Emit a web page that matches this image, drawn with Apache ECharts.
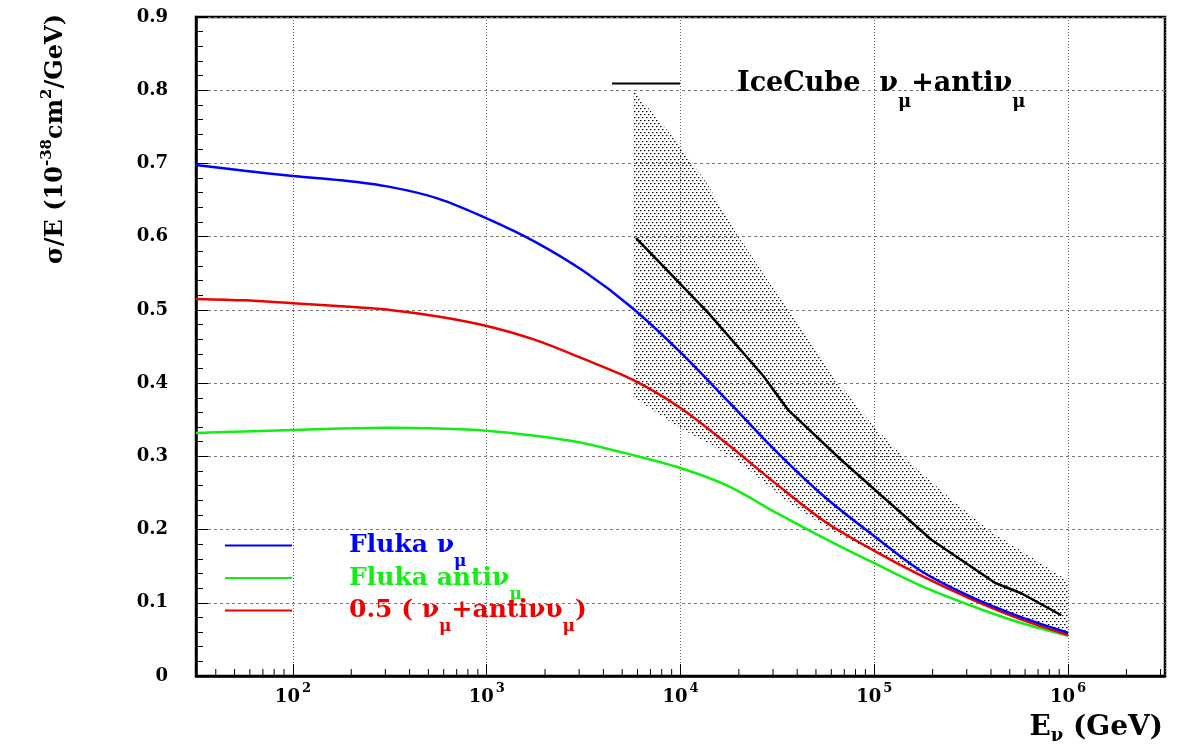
<!DOCTYPE html>
<html><head><meta charset="utf-8">
<script src="https://cdn.jsdelivr.net/npm/echarts@6/dist/echarts.min.js"></script>
<style>html,body{margin:0;padding:0;background:#fff}#c{width:1188px;height:753px}</style>
</head><body><div id="c"></div>
<script>
// ---- data ----
const flukaEnergy   = [31.6, 56.2, 100, 178, 316, 562, 1000, 1778, 3162, 5623, 1e4, 17783, 31623, 56234, 1e5, 177828, 316228, 562341, 1e6];
const flukaNuMu     = [0.698, 0.690, 0.683, 0.677, 0.668, 0.652, 0.625, 0.593, 0.553, 0.503, 0.442, 0.374, 0.305, 0.243, 0.191, 0.142, 0.108, 0.081, 0.059];
const flukaAntiNuMu = [0.332, 0.334, 0.336, 0.338, 0.339, 0.338, 0.335, 0.328, 0.318, 0.302, 0.284, 0.259, 0.222, 0.187, 0.154, 0.122, 0.096, 0.073, 0.055];
const flukaAverage  = [0.515, 0.513, 0.509, 0.505, 0.500, 0.491, 0.478, 0.459, 0.433, 0.405, 0.366, 0.315, 0.261, 0.210, 0.171, 0.136, 0.105, 0.078, 0.056];

const iceCubeEnergy = [5900, 13900, 26700, 36000, 67600, 101000, 197000, 421000, 573000, 923000];
const iceCubeValue  = [0.598, 0.496, 0.410, 0.363, 0.295, 0.254, 0.186, 0.127, 0.113, 0.083];

const bandEnergy = [5700, 9730, 13900, 19900, 27400, 36000, 65200, 96400, 140000, 240000, 386000, 622000, 1000000];
const bandHigh   = [0.800, 0.728, 0.670, 0.600, 0.545, 0.500, 0.400, 0.345, 0.300, 0.245, 0.200, 0.165, 0.130];
const bandLow    = [0.381, 0.340, 0.318, 0.293, 0.263, 0.237, 0.193, 0.172, 0.152, 0.125, 0.100, 0.076, 0.053];

const xMin = 31.6228, xMax = 3162278;        // 10^1.5 .. 10^6.5
const yMin = 0, yMax = 0.9, yStep = 0.1;
const xMinorTicks = [40,50,60,70,80,90, 200,300,400,500,600,700,800,900,
  2000,3000,4000,5000,6000,7000,8000,9000, 20000,30000,40000,50000,60000,70000,80000,90000,
  200000,300000,400000,500000,600000,700000,800000,900000, 2000000,3000000];

const N1 = 'Fluka νμ', N2 = 'Fluka antiνμ', N3 = '0.5 ( νμ+antiνυμ)', N4 = 'IceCube  νμ+antiνμ';

// ---- styling ----
const F = 'DejaVu Serif';
const BLUE = '#0000ff', GREEN = '#11ee11', RED = '#ee0000';

function dotPattern() {
  const c = document.createElement('canvas'); c.width = 4; c.height = 6;
  const g = c.getContext('2d');
  g.fillStyle = 'rgba(0,0,0,1)';
  g.fillRect(0, 0, 1, 1); g.fillRect(2, 3, 1, 1);
  g.fillStyle = 'rgba(0,0,0,0.45)';
  g.fillRect(1, 0, 1, 1); g.fillRect(3, 3, 1, 1);
  g.fillStyle = 'rgba(0,0,0,0.2)';
  g.fillRect(0, 1, 1, 1); g.fillRect(2, 4, 1, 1);
  return c;
}
const pattern = dotPattern();

function tok(color, size, lh, extra) {
  return Object.assign({color: color, fontFamily: F, fontWeight: 'bold', fontSize: size, lineHeight: lh}, extra || {});
}
const legendRich = {
  bp: tok(BLUE, 25, 50, {padding: [0, 0, 0, 52]}), bs: tok(BLUE, 17, 20, {verticalAlign: 'bottom'}),
  gp: tok(GREEN, 25, 50, {padding: [0, 0, 0, 52]}), gs: tok(GREEN, 17, 20, {verticalAlign: 'bottom'}),
  rp: tok(RED, 25, 50, {padding: [0, 0, 0, 52]}), r: tok(RED, 25, 50), rs: tok(RED, 17, 20, {verticalAlign: 'bottom'}),
  kp: tok('#000', 27, 56, {padding: [0, 0, 0, 52]}), k: tok('#000', 27, 56), ks: tok('#000', 18, 20, {verticalAlign: 'bottom'})
};
const legendText = {};
legendText[N1] = '{bp|Fluka ν}{bs|μ}';
legendText[N2] = '{gp|Fluka antiν}{gs|μ}';
legendText[N3] = '{rp|0.5 ( ν}{rs|μ}{r|+antiνυ}{rs|μ}{r|)}';
legendText[N4] = '{kp|IceCube  ν}{ks|μ}{k|+antiν}{ks|μ}';

function pairs(xs, ys) { return xs.map((x, i) => [x, ys[i]]); }
function curve(name, xs, ys, color, smooth, z) {
  return {
    type: 'line', name: name, data: pairs(xs, ys), symbol: 'none',
    smooth: smooth, z: z, silent: true,
    lineStyle: {color: color, width: 2.5}, itemStyle: {color: color}
  };
}

const chart = echarts.init(document.getElementById('c'), null, {renderer: 'canvas'});
chart.setOption({
  animation: false,
  backgroundColor: '#fff',
  grid: {left: 196, right: 23, top: 17, bottom: 77, show: true, borderColor: '#000', borderWidth: 2.5,
         backgroundColor: 'transparent', containLabel: false, outerBoundsMode: 'none'},
  xAxis: {
    type: 'log', logBase: 10, min: xMin, max: xMax,
    axisLine: {show: true, onZero: false, lineStyle: {color: '#000', width: 2.5}},
    axisTick: {show: true, inside: true, length: 12, lineStyle: {color: '#000', width: 1}},
    minorTick: {show: false},
    splitLine: {show: true, lineStyle: {color: '#666', width: 1, type: [1, 2]}},
    axisLabel: {
      show: true, margin: 6, showMinLabel: false, showMaxLabel: false,
      formatter: function (v) {
        const l = Math.log10(v), e = Math.round(l);
        if (Math.abs(l - e) > 1e-6) return '';
        return '{b|10}{s|' + e + '}';
      },
      rich: {
        b: {fontFamily: F, fontWeight: 'bold', fontSize: 18, color: '#000'},
        s: {fontFamily: F, fontWeight: 'bold', fontSize: 13, color: '#000', padding: [0, 0, 18, 2]}
      }
    }
  },
  yAxis: {
    type: 'value', min: yMin, max: yMax, interval: yStep,
    axisLine: {show: true, onZero: false, lineStyle: {color: '#000', width: 2.5}},
    axisTick: {show: true, inside: true, length: 12, lineStyle: {color: '#000', width: 1}},
    minorTick: {show: true, splitNumber: 5, length: 7, lineStyle: {color: '#000', width: 1}},
    splitLine: {show: true, lineStyle: {color: '#777', width: 1, type: [3, 3]}},
    axisLabel: {
      margin: 28, color: '#000', fontFamily: F, fontWeight: 'bold', fontSize: 18,
      formatter: function (v) { return v === 0 ? '0' : v.toFixed(1); }
    }
  },
  legend: [
    {data: [N1, N2, N3], orient: 'vertical', left: 225, top: 533, padding: 0,
     itemWidth: 67, itemHeight: 2, itemGap: -5, icon: 'rect', selectedMode: false,
     formatter: function (n) { return legendText[n]; }, textStyle: {rich: legendRich}},
    {data: [N4], orient: 'vertical', left: 612, top: 70, padding: 0,
     itemWidth: 68, itemHeight: 2, icon: 'rect', selectedMode: false,
     formatter: function (n) { return legendText[n]; }, textStyle: {rich: legendRich}}
  ],
  graphic: [
    {type: 'text', x: 56, y: 14, rotation: Math.PI / 2, silent: true,
     style: {text: '{m|σ/E (10}{s|-38}{m|cm}{s|2}{m|/GeV)}', align: 'right', verticalAlign: 'middle',
       rich: {m: {fontFamily: F, fontWeight: 'bold', fontSize: 24, fill: '#000'},
              s: {fontFamily: F, fontWeight: 'bold', fontSize: 15, fill: '#000', padding: [0, 0, 18, 0]}}}},
    {type: 'text', right: 25, top: 714, silent: true,
     style: {text: '{m|E}{s|ν}{m| (GeV)}',
       rich: {m: {fontFamily: F, fontWeight: 'bold', fontSize: 28, fill: '#000'},
              s: {fontFamily: F, fontWeight: 'bold', fontSize: 18, fill: '#000', padding: [16, 0, 0, 0]}}}}
  ],
  series: [
    {
      type: 'custom', name: 'band', silent: true, z: 1, clip: true,
      data: bandEnergy.map((e, i) => [e, bandLow[i], bandHigh[i]]),
      encode: {x: 0, y: [1, 2]},
      renderItem: function (params, api) {
        if (params.dataIndex !== 0) return null;
        const pts = [];
        for (let i = 0; i < bandEnergy.length; i++) pts.push(api.coord([bandEnergy[i], bandHigh[i]]));
        for (let i = bandEnergy.length - 1; i >= 0; i--) pts.push(api.coord([bandEnergy[i], bandLow[i]]));
        return {type: 'polygon', shape: {points: pts}, style: {fill: {image: pattern, repeat: 'repeat'}, stroke: null}};
      }
    },
    curve(N2, flukaEnergy, flukaAntiNuMu, GREEN, 0.3, 3),
    curve(N3, flukaEnergy, flukaAverage, RED, 0.3, 4),
    curve(N1, flukaEnergy, flukaNuMu, BLUE, 0.3, 5),
    curve(N4, iceCubeEnergy, iceCubeValue, '#000', false, 6),
    {
      type: 'custom', name: 'minorTicksX', silent: true, z: 10, clip: false,
      data: xMinorTicks.map(e => [e, yMin]),
      encode: {x: 0, y: 1},
      renderItem: function (params, api) {
        const p = api.coord([api.value(0), yMin]);
        return {type: 'line', shape: {x1: p[0], y1: p[1], x2: p[0], y2: p[1] - 7}, style: {stroke: '#000', lineWidth: 1}};
      }
    }
  ]
});
</script></body></html>
